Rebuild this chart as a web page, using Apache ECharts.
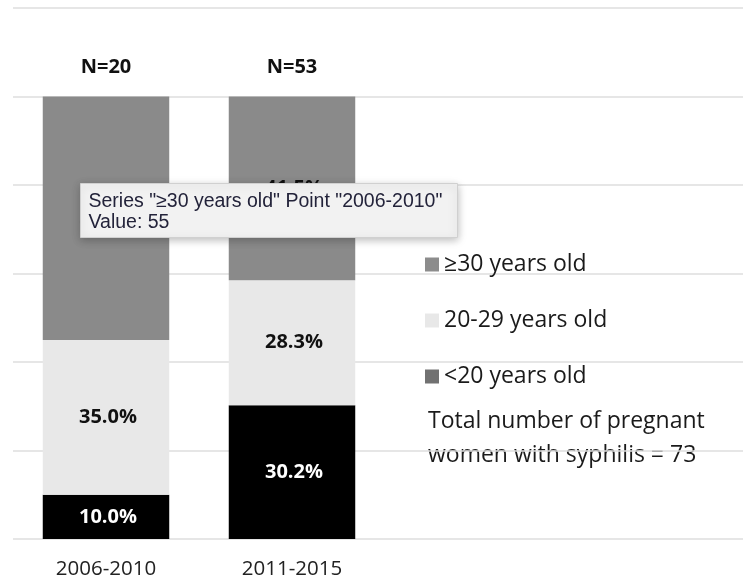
<!DOCTYPE html>
<html lang="en">
<head>
<meta charset="UTF-8">
<title>Pregnant women with syphilis by age</title>
<script src="https://cdn.jsdelivr.net/npm/echarts@6/dist/echarts.min.js"></script>
<style>
  html, body { margin: 0; padding: 0; background: #fff; }
  #main { width: 743px; height: 581px; }
</style>
</head>
<body>
<div id="main"></div>
<script>
// data
var periods = ['2006-2010', '2011-2015'];
var nLabels = ['N=20', 'N=53'];
var under20 = [10.0, 30.2];
var age20to29 = [35.0, 28.3];
var over30 = [55.0, 41.5];
var seriesNames = ['<20 years old', '20-29 years old', '\u226530 years old'];
var noteText = 'Total number of pregnant\nwomen with syphilis = 73';
var tipText = 'Series "\u226530 years old" Point "2006-2010"\nValue: 55';

var myChart = echarts.init(document.getElementById('main'));

function pct(p) {
    return p.value.toFixed(1) + '%';
}

var labelFont = 'Open Sans';

var option = {
    animation: false,
    grid: [
        { left: 13, right: 358, top: 8, bottom: 42 },
        { left: 13, right: 0, top: 8, bottom: 42 }
    ],
    xAxis: [
        {
            type: 'category',
            gridIndex: 0,
            data: periods,
            axisLine: { show: false },
            axisTick: { show: false },
            axisLabel: { color: '#222', fontFamily: labelFont, fontSize: 20.5, margin: 20 }
        },
        {
            type: 'value',
            gridIndex: 1,
            min: 0, max: 1,
            show: false
        }
    ],
    yAxis: [
        {
            type: 'value',
            gridIndex: 0,
            min: 0, max: 120, interval: 20,
            axisLabel: { show: false },
            axisLine: { show: false },
            axisTick: { show: false },
            splitLine: { show: false }
        },
        {
            type: 'value',
            gridIndex: 1,
            min: 0, max: 120, interval: 20,
            axisLabel: { show: false },
            axisLine: { show: false },
            axisTick: { show: false },
            splitLine: { show: true, lineStyle: { color: '#dedede', width: 1.5 } }
        }
    ],
    legend: {
        orient: 'vertical',
        left: 420,
        top: 248,
        itemWidth: 14,
        itemHeight: 14,
        itemGap: 33,
        icon: 'rect',
        textStyle: { color: '#1a1a1a', fontFamily: labelFont, fontSize: 23 },
        data: [
            { name: seriesNames[2], itemStyle: { color: '#8c8c8c' } },
            { name: seriesNames[1], itemStyle: { color: '#e8e8e8' } },
            { name: seriesNames[0], itemStyle: { color: '#717171' } }
        ]
    },
    series: [
        {
            name: seriesNames[0],
            type: 'bar',
            stack: 'age',
            data: under20,
            barCategoryGap: '32%',
            itemStyle: { color: '#000000' },
            label: { show: true, position: 'inside', offset: [2, 0], formatter: pct, color: '#fff',
                     fontFamily: labelFont, fontWeight: 'bold', fontSize: 20 }
        },
        {
            name: seriesNames[1],
            type: 'bar',
            stack: 'age',
            data: age20to29,
            itemStyle: { color: '#e8e8e8' },
            label: { show: true, position: 'inside', offset: [2, 0], formatter: pct, color: '#111',
                     fontFamily: labelFont, fontWeight: 'bold', fontSize: 20 }
        },
        {
            name: seriesNames[2],
            type: 'bar',
            stack: 'age',
            data: over30,
            itemStyle: { color: '#8a8a8a' },
            label: { show: true, position: 'inside', offset: [2, 0], formatter: pct, color: '#111',
                     fontFamily: labelFont, fontWeight: 'bold', fontSize: 20 }
        },
        {
            // zero-height cap that only carries the N= label
            name: 'N',
            type: 'bar',
            stack: 'age',
            data: [0, 0],
            itemStyle: { color: 'transparent' },
            label: {
                show: true, position: 'top', distance: 19,
                formatter: function (p) { return nLabels[p.dataIndex]; },
                color: '#111', fontFamily: labelFont, fontWeight: 'bold', fontSize: 20
            }
        }
    ],
    graphic: [
        {
            type: 'text',
            left: 428,
            top: 404,
            style: {
                text: noteText,
                fill: '#1a1a1a',
                font: '23px "Open Sans"',
                lineHeight: 34
            }
        },
        {
            type: 'group',
            left: 80,
            top: 183,
            z: 100,
            children: [
                {
                    type: 'rect',
                    z: 100,
                    shape: { x: 0, y: 0, width: 377, height: 54 },
                    style: {
                        fill: '#f2f2f2',
                        stroke: '#d0d0d0',
                        lineWidth: 1,
                        shadowBlur: 8,
                        shadowOffsetY: 2,
                        shadowColor: 'rgba(0,0,0,0.25)'
                    }
                },
                {
                    type: 'text',
                    z: 101,
                    x: 8,
                    y: 8,
                    style: {
                        text: tipText,
                        fill: '#23233a',
                        font: '19.5px "Liberation Sans"',
                        lineHeight: 21
                    }
                }
            ]
        }
    ]
};

myChart.setOption(option);
</script>
</body>
</html>
